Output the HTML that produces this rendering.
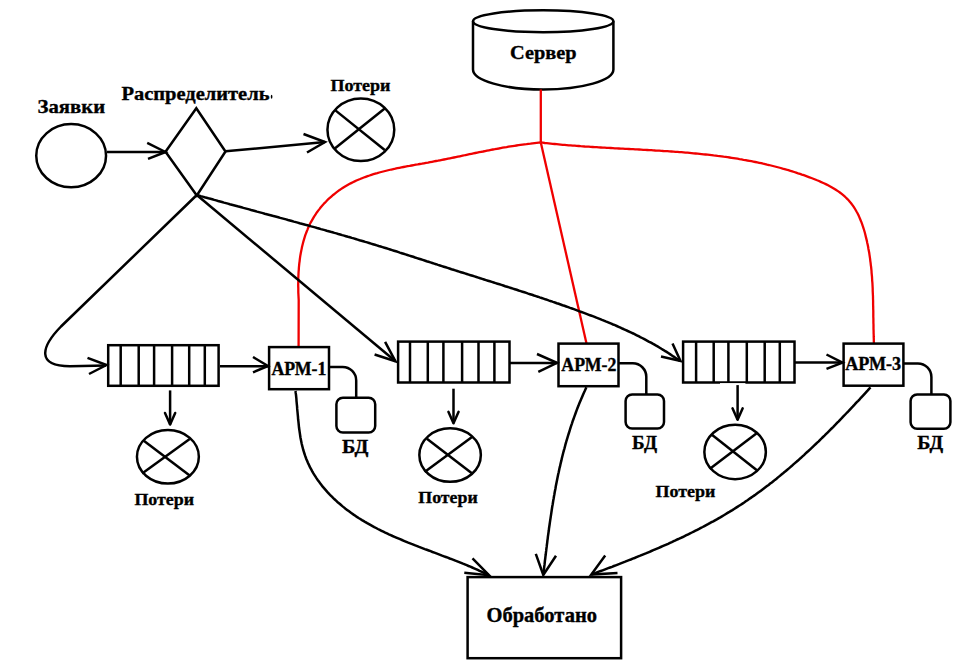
<!DOCTYPE html>
<html><head><meta charset="utf-8"><style>
html,body{margin:0;padding:0;background:#fff;}
svg{display:block;}
text{font-family:"Liberation Serif",serif;font-weight:bold;fill:#000;stroke:#000;stroke-width:0.35px;}
</style></head><body>
<svg width="974" height="666" viewBox="0 0 974 666">
<defs><clipPath id="c1"><rect x="0" y="0" width="272" height="666"/></clipPath></defs>
<rect width="974" height="666" fill="#fff"/>
<ellipse cx="71.15" cy="155.65" rx="34.9" ry="31.6" stroke="#000" stroke-width="2.5" fill="none"/>
<text x="37.6" y="113.4" font-size="19" textLength="67.5" lengthAdjust="spacingAndGlyphs">Заявки</text>
<path d="M107.0,152.0 L166.0,152.0" stroke="#000" stroke-width="2.5" fill="none" />
<path d="M147.2,142.8 L165.5,152.0 L148.0,158.9" stroke="#000" stroke-width="2.5" fill="none" />
<path d="M196.3,108.3 L165.5,151.8 L196.8,195.5 L225.5,151.5 L196.3,108.3 Z" stroke="#000" stroke-width="2.5" fill="none" stroke-linejoin="miter"/>
<g clip-path="url(#c1)"><text x="121.5" y="99.8" font-size="18" textLength="148" lengthAdjust="spacingAndGlyphs">Распределитель</text></g>
<ellipse cx="271.6" cy="96.8" rx="0.8" ry="2" fill="#000"/>
<path d="M225.5,151.3 L325.0,142.0" stroke="#000" stroke-width="2.5" fill="none" />
<path d="M303.5,134.0 L325.0,142.0 L307.0,152.5" stroke="#000" stroke-width="2.5" fill="none" />
<ellipse cx="360.85" cy="129.75" rx="33.400000000000006" ry="31.300000000000004" stroke="#000" stroke-width="2.5" fill="none"/>
<path d="M335.4,110.4 L384.7,150.0" stroke="#000" stroke-width="2.5" fill="none" />
<path d="M384.7,108.6 L334.8,148.6" stroke="#000" stroke-width="2.5" fill="none" />
<text x="330.5" y="91.2" font-size="17.5" textLength="60" lengthAdjust="spacingAndGlyphs">Потери</text>
<ellipse cx="543.2" cy="21.2" rx="70.2" ry="11" stroke="#000" stroke-width="2.5" fill="none"/>
<path d="M473.00000000000006,21.2 L473.00000000000006,69.5 A70.2,20 0 0 0 613.4000000000001,69.5 L613.4000000000001,21.2" stroke="#000" stroke-width="2.5" fill="none" />
<text x="510" y="58.6" font-size="19" textLength="66.5" lengthAdjust="spacingAndGlyphs">Сервер</text>
<path d="M540.8,89.5 L540.8,142.5" stroke="#f00000" stroke-width="2.3" fill="none" />
<path d="M540.8,142.5 L586.5,343.5" stroke="#f00000" stroke-width="2.3" fill="none" />
<path d="M540.8,142.5 L538.7,142.7 L536.7,142.9 L534.6,143.1 L532.6,143.3 L530.5,143.6 L528.5,143.8 L526.5,144.1 L524.5,144.3 L522.5,144.6 L520.5,144.9 L518.5,145.2 L516.5,145.5 L514.5,145.8 L512.5,146.1 L510.5,146.4 L508.5,146.7 L506.6,147.1 L504.6,147.4 L502.6,147.7 L500.7,148.1 L498.7,148.5 L496.8,148.8 L494.8,149.2 L492.9,149.5 L490.9,149.9 L489.0,150.3 L487.0,150.7 L485.1,151.1 L483.1,151.5 L481.2,151.8 L479.2,152.2 L477.3,152.6 L475.3,153.0 L473.4,153.4 L471.5,153.8 L469.5,154.2 L467.6,154.6 L465.6,155.0 L463.7,155.5 L461.7,155.9 L459.8,156.3 L457.8,156.7 L455.8,157.1 L453.9,157.5 L451.9,157.9 L449.9,158.3 L448.0,158.7 L446.0,159.1 L444.0,159.5 L442.0,159.9 L440.0,160.3 L438.0,160.7 L436.0,161.0 L434.0,161.4 L432.0,161.8 L430.0,162.2 L428.0,162.6 L426.0,162.9 L423.9,163.3 L421.9,163.7 L419.8,164.0 L417.8,164.4 L415.8,164.7 L413.7,165.1 L411.7,165.5 L409.6,165.9 L407.6,166.2 L405.5,166.6 L403.5,167.0 L401.4,167.4 L399.4,167.8 L397.3,168.2 L395.3,168.7 L393.3,169.1 L391.3,169.5 L389.2,170.0 L387.2,170.5 L385.2,171.0 L383.2,171.5 L381.2,172.0 L379.3,172.5 L377.3,173.1 L375.3,173.6 L373.4,174.2 L371.4,174.8 L369.5,175.5 L367.6,176.1 L365.7,176.8 L363.8,177.5 L362.0,178.2 L360.1,179.0 L358.3,179.7 L356.4,180.5 L354.6,181.4 L352.9,182.2 L351.1,183.1 L349.3,184.0 L347.6,185.0 L345.9,186.0 L344.2,187.0 L342.6,188.0 L340.9,189.1 L339.3,190.2 L337.7,191.4 L336.1,192.6 L334.6,193.8 L333.1,195.0 L331.6,196.3 L330.1,197.6 L328.6,198.9 L327.2,200.3 L325.9,201.7 L324.5,203.1 L323.2,204.6 L321.9,206.0 L320.6,207.5 L319.4,209.1 L318.2,210.6 L317.0,212.2 L315.9,213.9 L314.8,215.5 L313.8,217.2 L312.8,218.9 L311.8,220.6 L310.8,222.3 L309.9,224.1 L309.1,225.9 L308.2,227.7 L307.5,229.6 L306.7,231.5 L306.0,233.3 L305.3,235.2 L304.7,237.2 L304.1,239.1 L303.5,241.1 L303.0,243.0 L302.5,245.0 L302.0,247.0 L301.6,249.1 L301.2,251.1 L300.8,253.1 L300.4,255.2 L300.1,257.2 L299.8,259.3 L299.6,261.3 L299.3,263.4 L299.1,265.5 L298.9,267.5 L298.8,269.6 L298.6,271.7 L298.5,273.7 L298.4,275.8 L298.3,277.9 L298.3,279.9 L298.3,282.0 L298.2,284.0 L298.2,286.1 L298.3,288.1 L298.3,290.1 L298.3,292.1 L298.4,294.1 L298.5,296.1 L298.6,298.1 L298.7,300.0 L298.6,346" stroke="#f00000" stroke-width="2.3" fill="none" />
<path d="M540.8,142.5 L542.8,142.7 L544.8,143.0 L546.7,143.2 L548.7,143.4 L550.7,143.6 L552.7,143.8 L554.7,144.0 L556.7,144.2 L558.7,144.4 L560.7,144.6 L562.7,144.8 L564.7,144.9 L566.7,145.1 L568.7,145.3 L570.6,145.4 L572.7,145.6 L574.7,145.7 L576.7,145.9 L578.7,146.0 L580.7,146.2 L582.7,146.3 L584.7,146.5 L586.7,146.6 L588.7,146.7 L590.7,146.9 L592.7,147.0 L594.7,147.1 L596.7,147.2 L598.8,147.4 L600.8,147.5 L602.8,147.6 L604.8,147.7 L606.8,147.8 L608.8,147.9 L610.8,148.0 L612.9,148.1 L614.9,148.3 L616.9,148.4 L618.9,148.5 L620.9,148.6 L623.0,148.7 L625.0,148.8 L627.0,148.9 L629.0,149.0 L631.0,149.1 L633.1,149.2 L635.1,149.3 L637.1,149.4 L639.1,149.5 L641.1,149.6 L643.2,149.8 L645.2,149.9 L647.2,150.0 L649.2,150.1 L651.2,150.2 L653.3,150.3 L655.3,150.5 L657.3,150.6 L659.3,150.7 L661.3,150.8 L663.4,151.0 L665.4,151.1 L667.4,151.2 L669.4,151.4 L671.4,151.5 L673.4,151.6 L675.5,151.8 L677.5,151.9 L679.5,152.1 L681.5,152.2 L683.5,152.4 L685.5,152.6 L687.5,152.7 L689.6,152.9 L691.6,153.1 L693.6,153.3 L695.6,153.5 L697.6,153.7 L699.6,153.9 L701.6,154.1 L703.6,154.3 L705.6,154.5 L707.6,154.7 L709.6,154.9 L711.6,155.1 L713.6,155.4 L715.6,155.6 L717.6,155.9 L719.6,156.1 L721.6,156.4 L723.6,156.7 L725.6,156.9 L727.6,157.2 L729.6,157.5 L731.6,157.8 L733.6,158.1 L735.5,158.4 L737.5,158.7 L739.5,159.1 L741.5,159.4 L743.5,159.8 L745.4,160.1 L747.4,160.5 L749.4,160.8 L751.4,161.2 L753.3,161.6 L755.3,162.0 L757.3,162.4 L759.2,162.8 L761.2,163.2 L763.2,163.7 L765.1,164.1 L767.1,164.6 L769.0,165.0 L771.0,165.5 L772.9,166.0 L774.9,166.5 L776.8,167.0 L778.8,167.5 L780.7,168.0 L782.6,168.6 L784.6,169.1 L786.5,169.7 L788.4,170.2 L790.4,170.8 L792.3,171.4 L794.2,172.0 L796.1,172.6 L798.1,173.3 L800.0,173.9 L801.9,174.6 L803.8,175.2 L805.7,175.9 L807.6,176.6 L809.5,177.3 L811.4,178.0 L813.3,178.7 L815.2,179.5 L817.1,180.3 L819.0,181.0 L820.8,181.9 L822.7,182.7 L824.5,183.5 L826.3,184.4 L828.1,185.3 L829.8,186.2 L831.6,187.2 L833.3,188.2 L835.0,189.2 L836.6,190.3 L838.3,191.4 L839.9,192.5 L841.4,193.7 L842.9,194.9 L844.4,196.2 L845.8,197.5 L847.2,198.9 L848.6,200.3 L849.8,201.7 L851.1,203.2 L852.3,204.8 L853.4,206.4 L854.5,208.0 L855.5,209.7 L856.5,211.5 L857.5,213.2 L858.4,215.0 L859.2,216.9 L860.0,218.8 L860.8,220.7 L861.6,222.6 L862.3,224.6 L862.9,226.5 L863.6,228.5 L864.2,230.5 L864.8,232.5 L865.3,234.6 L865.8,236.6 L866.3,238.6 L866.8,240.6 L867.2,242.7 L867.7,244.7 L868.1,246.7 L868.4,248.7 L868.8,250.7 L869.2,252.8 L869.5,254.8 L869.8,256.8 L870.1,258.8 L870.3,260.8 L870.6,262.8 L870.8,264.8 L871.1,266.8 L871.3,268.8 L871.5,270.8 L871.6,272.8 L871.8,274.8 L872.0,276.8 L872.1,278.8 L872.2,280.8 L872.4,282.8 L872.5,284.8 L872.6,286.8 L872.7,288.8 L872.7,290.8 L872.8,292.8 L872.9,294.8 L873.0,296.8 L873.0,298.8 L873.1,300.8 L873.1,302.8 L873.1,304.8 L873.2,306.8 L873.2,308.8 L873.3,310.8 L873.3,312.8 L873.3,314.8 L873.3,316.8 L873.4,318.8 L873.4,320.8 L873.4,322.8 L873.5,324.8 L873.5,326.8 L873.5,328.8 L873.6,330.9 L873.6,332.9 L873.7,334.9 L873.7,336.9 L873.8,338.9 L873.8,341.0 L873.9,343.0" stroke="#f00000" stroke-width="2.3" fill="none" />
<path d="M196.8,195 L61,326.5 C41,347 36,366 70,366.2 L106,365.5" stroke="#000" stroke-width="2.5" fill="none" />
<path d="M87.5,357.8 L106.5,365.0 L89.0,374.0" stroke="#000" stroke-width="2.5" fill="none" />
<path d="M196.8,195.0 L395.5,361.3" stroke="#000" stroke-width="2.5" fill="none" />
<path d="M385.1,341.8 L395.5,361.3 L374.6,354.5" stroke="#000" stroke-width="2.5" fill="none" />
<path d="M196.8,195.0 L198.7,195.5 L200.7,196.1 L202.6,196.6 L204.6,197.2 L206.5,197.7 L208.4,198.3 L210.4,198.8 L212.3,199.3 L214.3,199.9 L216.2,200.4 L218.1,201.0 L220.1,201.5 L222.0,202.0 L224.0,202.6 L225.9,203.1 L227.9,203.6 L229.8,204.2 L231.7,204.7 L233.7,205.2 L235.6,205.7 L237.6,206.3 L239.5,206.8 L241.4,207.3 L243.4,207.9 L245.3,208.4 L247.3,208.9 L249.2,209.4 L251.1,210.0 L253.1,210.5 L255.0,211.0 L257.0,211.6 L258.9,212.1 L260.9,212.6 L262.8,213.1 L264.7,213.7 L266.7,214.2 L268.6,214.7 L270.6,215.2 L272.5,215.8 L274.4,216.3 L276.4,216.8 L278.3,217.3 L280.3,217.9 L282.2,218.4 L284.1,218.9 L286.1,219.4 L288.0,220.0 L289.9,220.5 L291.9,221.0 L293.8,221.6 L295.8,222.1 L297.7,222.6 L299.6,223.2 L301.6,223.7 L303.5,224.2 L305.4,224.8 L307.4,225.3 L309.3,225.8 L311.2,226.4 L313.2,226.9 L315.1,227.4 L317.1,228.0 L319.0,228.5 L320.9,229.1 L322.9,229.6 L324.8,230.1 L326.7,230.7 L328.6,231.2 L330.6,231.8 L332.5,232.3 L334.4,232.9 L336.4,233.4 L338.3,234.0 L340.2,234.5 L342.2,235.1 L344.1,235.6 L346.0,236.2 L347.9,236.8 L349.9,237.3 L351.8,237.9 L353.7,238.4 L355.6,239.0 L357.6,239.6 L359.5,240.2 L361.4,240.7 L363.3,241.3 L365.3,241.9 L367.2,242.4 L369.1,243.0 L371.0,243.6 L373.0,244.2 L374.9,244.8 L376.8,245.4 L378.7,246.0 L380.6,246.5 L382.5,247.1 L384.5,247.7 L386.4,248.3 L388.3,248.9 L390.2,249.5 L392.1,250.1 L394.0,250.7 L396.0,251.3 L397.9,251.9 L399.8,252.6 L401.7,253.2 L403.6,253.8 L405.5,254.4 L407.4,255.0 L409.3,255.6 L411.3,256.2 L413.2,256.8 L415.1,257.5 L417.0,258.1 L418.9,258.7 L420.8,259.3 L422.7,259.9 L424.6,260.5 L426.6,261.2 L428.5,261.8 L430.4,262.4 L432.3,263.0 L434.2,263.6 L436.1,264.2 L438.0,264.9 L440.0,265.5 L441.9,266.1 L443.8,266.7 L445.7,267.3 L447.6,267.9 L449.5,268.5 L451.5,269.2 L453.4,269.8 L455.3,270.4 L457.2,271.0 L459.1,271.6 L461.0,272.2 L463.0,272.8 L464.9,273.4 L466.8,274.0 L468.7,274.6 L470.6,275.2 L472.6,275.8 L474.5,276.4 L476.4,277.0 L478.3,277.6 L480.3,278.3 L482.2,278.9 L484.1,279.5 L486.0,280.1 L487.9,280.7 L489.9,281.3 L491.8,281.9 L493.7,282.5 L495.6,283.1 L497.5,283.7 L499.5,284.3 L501.4,284.9 L503.3,285.5 L505.2,286.2 L507.1,286.8 L509.1,287.4 L511.0,288.0 L512.9,288.6 L514.8,289.2 L516.7,289.8 L518.6,290.5 L520.6,291.1 L522.5,291.7 L524.4,292.3 L526.3,292.9 L528.2,293.6 L530.1,294.2 L532.0,294.8 L534.0,295.5 L535.9,296.1 L537.8,296.7 L539.7,297.4 L541.6,298.0 L543.5,298.6 L545.4,299.3 L547.3,299.9 L549.2,300.6 L551.1,301.2 L553.0,301.9 L554.9,302.5 L556.8,303.2 L558.7,303.8 L560.6,304.5 L562.5,305.2 L564.4,305.8 L566.3,306.5 L568.2,307.2 L570.1,307.9 L572.0,308.5 L573.9,309.2 L575.8,309.9 L577.6,310.6 L579.5,311.3 L581.4,312.0 L583.3,312.7 L585.2,313.4 L587.1,314.1 L588.9,314.8 L590.8,315.5 L592.7,316.2 L594.6,316.9 L596.4,317.7 L598.3,318.4 L600.2,319.1 L602.0,319.9 L603.9,320.6 L605.7,321.4 L607.6,322.1 L609.4,322.9 L611.3,323.7 L613.1,324.5 L615.0,325.2 L616.8,326.0 L618.6,326.8 L620.5,327.6 L622.3,328.5 L624.1,329.3 L625.9,330.1 L627.8,331.0 L629.6,331.8 L631.4,332.7 L633.2,333.5 L635.0,334.4 L636.8,335.3 L638.6,336.2 L640.3,337.1 L642.1,338.0 L643.9,338.9 L645.7,339.9 L647.4,340.8 L649.2,341.8 L651.0,342.7 L652.7,343.7 L654.5,344.7 L656.2,345.7 L658.0,346.7 L659.7,347.7 L661.4,348.8 L663.1,349.8 L664.8,350.9 L666.6,351.9 L668.3,353.0 L670.0,354.1 L671.6,355.2 L673.3,356.4 L675.0,357.5 L676.7,358.7 L678.3,359.8 L680.0,361.0" stroke="#000" stroke-width="2.5" fill="none" />
<path d="M672.5,343.5 L680.5,361.0 L661.0,356.5" stroke="#000" stroke-width="2.5" fill="none" />
<rect x="108.2" y="345.2" width="110.4" height="40.6" stroke="#000" stroke-width="2.5" fill="none"/>
<path d="M120.7,345.0 L120.7,386.1" stroke="#000" stroke-width="2.5" fill="none" />
<path d="M138.7,345.0 L138.7,386.1" stroke="#000" stroke-width="2.5" fill="none" />
<path d="M154.1,345.0 L154.1,386.1" stroke="#000" stroke-width="2.5" fill="none" />
<path d="M172.1,345.0 L172.1,386.1" stroke="#000" stroke-width="2.5" fill="none" />
<path d="M189.2,345.0 L189.2,386.1" stroke="#000" stroke-width="2.5" fill="none" />
<path d="M204.8,345.0 L204.8,386.1" stroke="#000" stroke-width="2.5" fill="none" />
<rect x="398.1" y="341.6" width="111.4" height="40.9" stroke="#000" stroke-width="2.5" fill="none"/>
<path d="M410.0,341.3 L410.0,382.7" stroke="#000" stroke-width="2.5" fill="none" />
<path d="M427.8,341.3 L427.8,382.7" stroke="#000" stroke-width="2.5" fill="none" />
<path d="M443.4,341.3 L443.4,382.7" stroke="#000" stroke-width="2.5" fill="none" />
<path d="M462.1,341.3 L462.1,382.7" stroke="#000" stroke-width="2.5" fill="none" />
<path d="M478.5,341.3 L478.5,382.7" stroke="#000" stroke-width="2.5" fill="none" />
<path d="M494.4,341.3 L494.4,382.7" stroke="#000" stroke-width="2.5" fill="none" />
<rect x="683.1" y="341.6" width="111.4" height="40.9" stroke="#000" stroke-width="2.5" fill="none"/>
<path d="M696.1,341.3 L696.1,382.7" stroke="#000" stroke-width="2.5" fill="none" />
<path d="M713.7,341.3 L713.7,382.7" stroke="#000" stroke-width="2.5" fill="none" />
<path d="M728.4,341.3 L728.4,382.7" stroke="#000" stroke-width="2.5" fill="none" />
<path d="M746.8,341.3 L746.8,382.7" stroke="#000" stroke-width="2.5" fill="none" />
<path d="M764.7,341.3 L764.7,382.7" stroke="#000" stroke-width="2.5" fill="none" />
<path d="M779.8,341.3 L779.8,382.7" stroke="#000" stroke-width="2.5" fill="none" />
<rect x="720" y="383.1" width="25.4" height="2" fill="#fff"/>
<path d="M220.0,366.2 L268.0,366.2" stroke="#000" stroke-width="2.5" fill="none" />
<path d="M253.0,357.0 L268.0,366.0 L253.0,372.3" stroke="#000" stroke-width="2.5" fill="none" />
<path d="M510.0,363.0 L557.0,363.0" stroke="#000" stroke-width="2.5" fill="none" />
<path d="M537.0,354.0 L557.0,362.8 L538.3,371.8" stroke="#000" stroke-width="2.5" fill="none" />
<path d="M795.0,362.6 L842.5,362.6" stroke="#000" stroke-width="2.5" fill="none" />
<path d="M826.5,354.5 L842.5,362.6 L826.5,368.8" stroke="#000" stroke-width="2.5" fill="none" />
<rect x="269.1" y="347.1" width="59.9" height="42.1" stroke="#000" stroke-width="2.5" fill="none"/>
<rect x="558.5" y="343.6" width="60.0" height="42.6" stroke="#000" stroke-width="2.5" fill="none"/>
<rect x="843.6" y="343.6" width="59.8" height="42.1" stroke="#000" stroke-width="2.5" fill="none"/>
<text x="271.4" y="374.8" font-size="18" textLength="55" lengthAdjust="spacingAndGlyphs">АРМ-1</text>
<text x="561.3" y="370.9" font-size="18" textLength="55" lengthAdjust="spacingAndGlyphs">АРМ-2</text>
<text x="845.2" y="369.9" font-size="18" textLength="56" lengthAdjust="spacingAndGlyphs">АРМ-3</text>
<path d="M329,366.9 L342.7,366.9 A13.5,13.5 0 0 1 356.2,380.4 L356.2,397.5" stroke="#000" stroke-width="2.5" fill="none" />
<path d="M618.5,363.3 L632.8,363.3 A13.5,13.5 0 0 1 646.3,376.8 L646.3,394" stroke="#000" stroke-width="2.5" fill="none" />
<path d="M903.5,363.4 L917.9,363.4 A13.5,13.5 0 0 1 931.4,376.9 L931.4,394" stroke="#000" stroke-width="2.5" fill="none" />
<rect x="336.4" y="397.8" width="38.8" height="34.7" rx="6.5" stroke="#000" stroke-width="2.5" fill="none"/>
<rect x="625.6" y="394.4" width="38.4" height="34.1" rx="6.5" stroke="#000" stroke-width="2.5" fill="none"/>
<rect x="910.6" y="394.4" width="39.8" height="34.4" rx="6.5" stroke="#000" stroke-width="2.5" fill="none"/>
<text x="342" y="453" font-size="19" textLength="26.5" lengthAdjust="spacingAndGlyphs">БД</text>
<text x="632" y="448.7" font-size="19" textLength="25" lengthAdjust="spacingAndGlyphs">БД</text>
<text x="917.2" y="448.6" font-size="19" textLength="26" lengthAdjust="spacingAndGlyphs">БД</text>
<path d="M170.1,390.4 L170.1,424.5" stroke="#000" stroke-width="2.5" fill="none" />
<path d="M165.0,413.0 L170.1,424.5 L175.2,413.0" stroke="#000" stroke-width="2.5" fill="none" stroke-linejoin="round" stroke-linecap="round"/>
<path d="M453.5,388.7 L453.5,423.3" stroke="#000" stroke-width="2.5" fill="none" />
<path d="M448.4,411.8 L453.5,423.3 L458.6,411.8" stroke="#000" stroke-width="2.5" fill="none" stroke-linejoin="round" stroke-linecap="round"/>
<path d="M737.6,385.1 L737.6,419.8" stroke="#000" stroke-width="2.5" fill="none" />
<path d="M732.5,408.3 L737.6,419.8 L742.7,408.3" stroke="#000" stroke-width="2.5" fill="none" stroke-linejoin="round" stroke-linecap="round"/>
<ellipse cx="167.89999999999998" cy="456.8" rx="30.950000000000003" ry="26.75" stroke="#000" stroke-width="2.5" fill="none"/>
<path d="M143.8,440.8 L190.0,475.8" stroke="#000" stroke-width="2.5" fill="none" />
<path d="M189.7,438.9 L142.1,473.5" stroke="#000" stroke-width="2.5" fill="none" />
<ellipse cx="450.1" cy="455.05" rx="30.75" ry="26.80000000000001" stroke="#000" stroke-width="2.5" fill="none"/>
<path d="M426.9,438.8 L472.5,473.8" stroke="#000" stroke-width="2.5" fill="none" />
<path d="M472.0,436.9 L424.6,471.9" stroke="#000" stroke-width="2.5" fill="none" />
<ellipse cx="735.1" cy="451.95" rx="30.75" ry="27.19999999999999" stroke="#000" stroke-width="2.5" fill="none"/>
<path d="M711.9,434.7 L757.5,470.8" stroke="#000" stroke-width="2.5" fill="none" />
<path d="M757.0,433.0 L709.6,469.1" stroke="#000" stroke-width="2.5" fill="none" />
<text x="134.4" y="504.5" font-size="17.5" textLength="59.6" lengthAdjust="spacingAndGlyphs">Потери</text>
<text x="418.3" y="502.9" font-size="17.5" textLength="59.4" lengthAdjust="spacingAndGlyphs">Потери</text>
<text x="655.6" y="496.8" font-size="17.5" textLength="59.8" lengthAdjust="spacingAndGlyphs">Потери</text>
<path d="M295.5,391.0 L295.7,392.9 L296.0,394.9 L296.2,396.9 L296.4,398.8 L296.5,400.8 L296.7,402.8 L296.9,404.9 L297.1,406.9 L297.2,408.9 L297.4,411.0 L297.6,413.0 L297.8,415.1 L298.0,417.1 L298.1,419.2 L298.4,421.3 L298.6,423.3 L298.8,425.4 L299.0,427.5 L299.3,429.5 L299.6,431.6 L299.9,433.6 L300.2,435.7 L300.5,437.7 L300.9,439.7 L301.3,441.7 L301.7,443.7 L302.2,445.7 L302.7,447.7 L303.2,449.7 L303.8,451.6 L304.4,453.5 L305.0,455.4 L305.7,457.3 L306.4,459.2 L307.2,461.0 L307.9,462.8 L308.8,464.6 L309.6,466.4 L310.5,468.2 L311.5,469.9 L312.4,471.7 L313.4,473.4 L314.5,475.1 L315.5,476.7 L316.6,478.4 L317.7,480.0 L318.9,481.6 L320.1,483.2 L321.3,484.8 L322.5,486.4 L323.8,487.9 L325.1,489.4 L326.4,490.9 L327.7,492.4 L329.1,493.9 L330.5,495.3 L331.9,496.7 L333.3,498.1 L334.8,499.5 L336.3,500.9 L337.7,502.2 L339.3,503.5 L340.8,504.8 L342.3,506.1 L343.9,507.4 L345.5,508.7 L347.1,509.9 L348.7,511.1 L350.3,512.3 L352.0,513.5 L353.6,514.6 L355.3,515.7 L356.9,516.9 L358.6,518.0 L360.3,519.0 L362.0,520.1 L363.8,521.1 L365.5,522.2 L367.2,523.2 L369.0,524.2 L370.8,525.2 L372.5,526.1 L374.3,527.1 L376.1,528.0 L377.9,529.0 L379.7,529.9 L381.5,530.8 L383.4,531.7 L385.2,532.6 L387.0,533.4 L388.9,534.3 L390.7,535.1 L392.6,536.0 L394.5,536.8 L396.3,537.6 L398.2,538.4 L400.1,539.2 L402.0,540.0 L403.9,540.8 L405.7,541.6 L407.6,542.4 L409.5,543.1 L411.5,543.9 L413.4,544.6 L415.3,545.4 L417.2,546.1 L419.1,546.9 L421.0,547.6 L422.9,548.3 L424.8,549.1 L426.8,549.8 L428.7,550.5 L430.6,551.2 L432.5,552.0 L434.4,552.7 L436.4,553.4 L438.3,554.1 L440.2,554.8 L442.1,555.6 L444.0,556.3 L445.9,557.0 L447.8,557.7 L449.7,558.5 L451.6,559.2 L453.5,559.9 L455.4,560.7 L457.3,561.4 L459.2,562.1 L461.1,562.9 L463.0,563.7 L464.8,564.4 L466.7,565.2 L468.5,566.0 L470.4,566.7 L472.2,567.5 L474.1,568.3 L475.9,569.1 L477.7,569.9 L479.5,570.8 L481.4,571.6 L483.2,572.4 L484.9,573.3 L486.7,574.1 L488.5,575.0" stroke="#000" stroke-width="2.5" fill="none" />
<path d="M472.5,558.3 L489.0,575.2 L464.3,572.7" stroke="#000" stroke-width="2.5" fill="none" />
<path d="M586.4,387.3 L585.5,389.2 L584.7,391.0 L583.8,392.9 L583.0,394.8 L582.2,396.7 L581.4,398.5 L580.6,400.4 L579.8,402.3 L579.0,404.2 L578.3,406.1 L577.5,408.0 L576.8,409.9 L576.1,411.8 L575.4,413.7 L574.7,415.6 L574.0,417.6 L573.3,419.5 L572.6,421.4 L572.0,423.3 L571.3,425.3 L570.7,427.2 L570.1,429.1 L569.5,431.1 L568.9,433.0 L568.3,434.9 L567.7,436.9 L567.1,438.8 L566.5,440.8 L566.0,442.7 L565.4,444.7 L564.9,446.7 L564.4,448.6 L563.8,450.6 L563.3,452.5 L562.8,454.5 L562.3,456.5 L561.8,458.5 L561.4,460.4 L560.9,462.4 L560.4,464.4 L560.0,466.4 L559.5,468.3 L559.1,470.3 L558.7,472.3 L558.2,474.3 L557.8,476.3 L557.4,478.3 L557.0,480.3 L556.6,482.3 L556.2,484.3 L555.8,486.3 L555.5,488.3 L555.1,490.3 L554.7,492.3 L554.4,494.3 L554.0,496.3 L553.7,498.3 L553.3,500.3 L553.0,502.3 L552.7,504.3 L552.3,506.3 L552.0,508.3 L551.7,510.3 L551.4,512.4 L551.1,514.4 L550.8,516.4 L550.5,518.4 L550.2,520.4 L549.9,522.4 L549.6,524.5 L549.3,526.5 L549.0,528.5 L548.8,530.5 L548.5,532.5 L548.2,534.6 L547.9,536.6 L547.7,538.6 L547.4,540.6 L547.2,542.6 L546.9,544.7 L546.7,546.7 L546.4,548.7 L546.2,550.7 L545.9,552.8 L545.7,554.8 L545.4,556.8 L545.2,558.8 L544.9,560.8 L544.7,562.9 L544.5,564.9 L544.2,566.9 L544.0,568.9 L543.8,571.0 L543.5,573.0 L543.3,575.0" stroke="#000" stroke-width="2.5" fill="none" />
<path d="M535.8,553.8 L543.3,575.0 L556.0,555.8" stroke="#000" stroke-width="2.5" fill="none" />
<path d="M870.5,387.4 L869.1,388.9 L867.8,390.4 L866.4,391.9 L865.1,393.3 L863.7,394.8 L862.3,396.3 L860.9,397.8 L859.6,399.3 L858.2,400.8 L856.8,402.2 L855.4,403.7 L854.1,405.2 L852.7,406.7 L851.3,408.1 L849.9,409.6 L848.5,411.1 L847.1,412.5 L845.7,414.0 L844.3,415.5 L842.9,416.9 L841.5,418.4 L840.1,419.8 L838.7,421.3 L837.3,422.7 L835.9,424.2 L834.5,425.6 L833.1,427.1 L831.6,428.5 L830.2,429.9 L828.8,431.3 L827.3,432.8 L825.9,434.2 L824.5,435.6 L823.0,437.0 L821.6,438.4 L820.1,439.8 L818.7,441.3 L817.2,442.7 L815.8,444.0 L814.3,445.4 L812.8,446.8 L811.4,448.2 L809.9,449.6 L808.4,451.0 L806.9,452.3 L805.4,453.7 L804.0,455.1 L802.5,456.4 L801.0,457.8 L799.5,459.1 L798.0,460.5 L796.5,461.8 L794.9,463.1 L793.4,464.4 L791.9,465.8 L790.4,467.1 L788.9,468.4 L787.3,469.7 L785.8,471.0 L784.2,472.3 L782.7,473.6 L781.2,474.8 L779.6,476.1 L778.0,477.4 L776.5,478.7 L774.9,479.9 L773.3,481.2 L771.8,482.4 L770.2,483.6 L768.6,484.9 L767.0,486.1 L765.4,487.3 L763.8,488.5 L762.2,489.7 L760.6,490.9 L759.0,492.1 L757.3,493.3 L755.7,494.5 L754.1,495.6 L752.4,496.8 L750.8,497.9 L749.1,499.1 L747.5,500.2 L745.8,501.3 L744.2,502.5 L742.5,503.6 L740.8,504.7 L739.1,505.8 L737.4,506.9 L735.8,507.9 L734.1,509.0 L732.4,510.1 L730.6,511.1 L728.9,512.2 L727.2,513.2 L725.5,514.2 L723.8,515.3 L722.0,516.3 L720.3,517.3 L718.5,518.3 L716.8,519.3 L715.0,520.3 L713.3,521.3 L711.5,522.2 L709.8,523.2 L708.0,524.2 L706.2,525.1 L704.4,526.1 L702.7,527.0 L700.9,527.9 L699.1,528.9 L697.3,529.8 L695.5,530.7 L693.7,531.6 L691.9,532.5 L690.1,533.4 L688.3,534.3 L686.4,535.2 L684.6,536.1 L682.8,537.0 L681.0,537.8 L679.2,538.7 L677.3,539.5 L675.5,540.4 L673.7,541.2 L671.8,542.1 L670.0,542.9 L668.1,543.8 L666.3,544.6 L664.4,545.4 L662.6,546.2 L660.7,547.0 L658.9,547.8 L657.0,548.6 L655.2,549.4 L653.3,550.2 L651.4,551.0 L649.6,551.8 L647.7,552.6 L645.8,553.4 L644.0,554.1 L642.1,554.9 L640.2,555.7 L638.3,556.4 L636.5,557.2 L634.6,558.0 L632.7,558.7 L630.8,559.5 L629.0,560.2 L627.1,560.9 L625.2,561.7 L623.3,562.4 L621.4,563.1 L619.5,563.9 L617.7,564.6 L615.8,565.3 L613.9,566.0 L612.0,566.8 L610.1,567.5 L608.2,568.2 L606.4,568.9 L604.5,569.6 L602.6,570.3 L600.7,571.0 L598.8,571.7 L596.9,572.4 L595.1,573.1 L593.2,573.8 L591.3,574.5" stroke="#000" stroke-width="2.5" fill="none" />
<path d="M605.2,555.6 L591.3,574.5 L617.5,573.0" stroke="#000" stroke-width="2.5" fill="none" />
<rect x="467.6" y="577.1" width="153.5" height="81.1" stroke="#000" stroke-width="2.5" fill="none"/>
<text x="486.5" y="622.1" font-size="20" textLength="110.5" lengthAdjust="spacingAndGlyphs">Обработано</text>
</svg>
</body></html>
